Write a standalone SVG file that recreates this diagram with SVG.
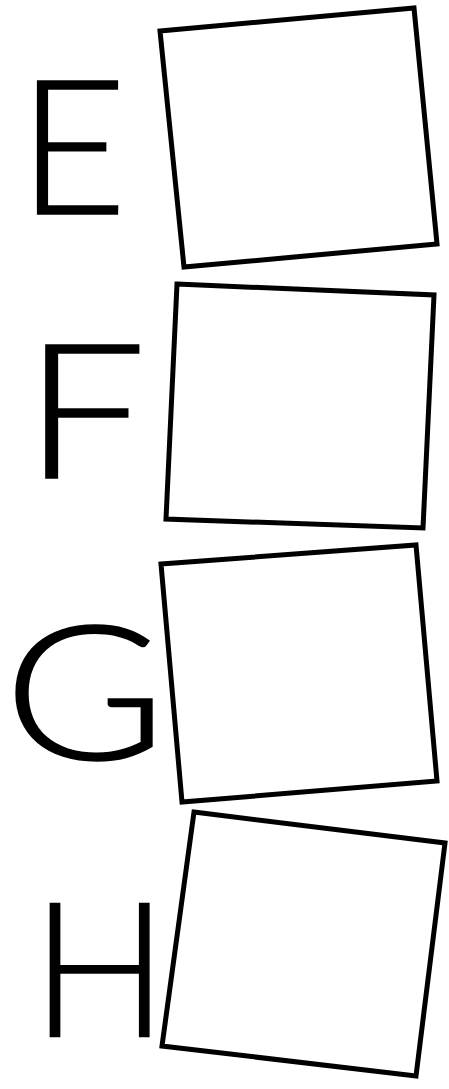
<svg xmlns="http://www.w3.org/2000/svg" width="449" height="1089" viewBox="0 0 449 1089">
<style>
.box{fill:#fff;stroke:#000;stroke-width:5;stroke-linejoin:miter}
.lbl{font-family:Lato,"Liberation Sans",sans-serif;font-weight:300;font-size:188px;fill:#000;stroke:#000;stroke-width:1.5}
</style>
<rect width="449" height="1089" fill="#fff"/>
<g id="node-E">
<polygon class="box" points="160,31 414,8 437,244 184,267"/>
<text class="lbl" x="18" y="214">E</text>
</g>
<g id="node-F">
<polygon class="box" points="177,284 434,295 423,528 166,519"/>
<text class="lbl" x="26" y="478" transform="translate(43 0) scale(1.16 1) translate(-43 0)">F</text>
</g>
<g id="node-G">
<polygon class="box" points="161,564 416,545 437,781 182,802"/>
<text class="lbl" x="5" y="760" transform="translate(15 0) scale(1.18 1) translate(-15 0)">G</text>
</g>
<g id="node-H">
<polygon class="box" points="194,812 445,843 416,1076 162,1046"/>
<text class="lbl" x="31" y="1037" transform="translate(45 0) scale(0.96 1) translate(-45 0)">H</text>
</g>
<g id="connectors"></g>
</svg>
